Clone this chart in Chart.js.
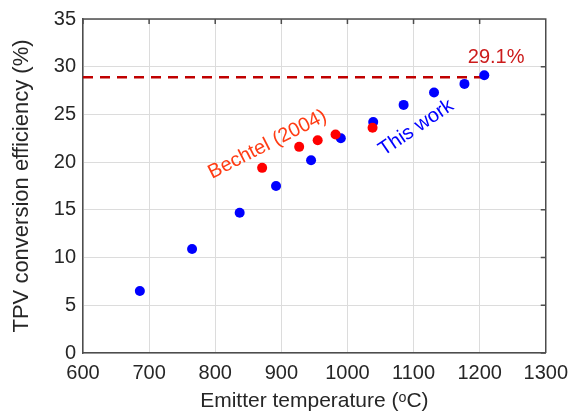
<!DOCTYPE html>
<html>
<head>
<meta charset="utf-8">
<script src="https://cdn.jsdelivr.net/npm/chart.js@4.4.1/dist/chart.umd.min.js"></script>
<style>
  body { margin: 0; background: #fff; }
  canvas { display: block; }
</style>
</head>
<body>
<canvas id="grafico" width="576" height="415"></canvas>
<script>
// this work (blue)
var tempThisWork = [686, 765, 837, 892, 945, 990, 1039, 1085, 1131, 1177, 1207]
var efThisWork = [6.5, 10.9, 14.7, 17.5, 20.2, 22.5, 24.2, 26.0, 27.3, 28.2, 29.1]

// Bechtel (2004) (red)
var tempBechtel = [871, 927, 955, 982, 1038]
var efBechtel = [19.4, 21.6, 22.3, 22.9, 23.6]

// dashed reference line
var tempLinea = [600, 1205]
var efLinea = [28.9, 28.9]

var xTicks = [600, 700, 800, 900, 1000, 1100, 1200, 1300]
var yTicks = [0, 5, 10, 15, 20, 25, 30, 35]

// text labels: [text, x, y, angle, color]
var etiquetas = [
    ['29.1%', 1225, 31.0, 0, '#cc1b1b'],
    ['Bechtel (2004)', 879, 21.85, -27, '#ff3c14'],
    ['This work', 1104, 23.6, -34, '#0000ff']
]

function puntos(xs, ys) {
    return xs.map(function (x, i) { return {x: x, y: ys[i]} })
}

var colorMarco = '#4d4d4d'
var colorTexto = '#262626'
var fuente = 'Liberation Sans, Arial, sans-serif'

var extras = {
    id: 'extras',
    afterDraw: function (chart) {
        var ctx = chart.ctx
        var a = chart.chartArea
        var sx = chart.scales.x
        var sy = chart.scales.y
        ctx.save()
        // top and right frame + inner ticks
        ctx.strokeStyle = colorMarco
        ctx.lineWidth = 1.5
        ctx.beginPath()
        ctx.moveTo(a.left, a.top)
        ctx.lineTo(a.right, a.top)
        ctx.lineTo(a.right, a.bottom)
        xTicks.forEach(function (v) {
            var px = sx.getPixelForValue(v)
            ctx.moveTo(px, a.top)
            ctx.lineTo(px, a.top + 5)
        })
        yTicks.forEach(function (v) {
            var py = sy.getPixelForValue(v)
            ctx.moveTo(a.right, py)
            ctx.lineTo(a.right - 5, py)
        })
        ctx.stroke()
        // annotations
        ctx.font = '20px ' + fuente
        ctx.textAlign = 'center'
        ctx.textBaseline = 'middle'
        etiquetas.forEach(function (e) {
            ctx.save()
            ctx.translate(sx.getPixelForValue(e[1]), sy.getPixelForValue(e[2]))
            ctx.rotate(e[3] * Math.PI / 180)
            ctx.fillStyle = e[4]
            ctx.fillText(e[0], 0, 0)
            ctx.restore()
        })
        ctx.restore()
    }
}

var ctx = document.getElementById('grafico')
var grafico = new Chart(ctx,
    {
        type: 'scatter',
        data:
            {
                datasets:
                    [{
                        data: puntos(tempLinea, efLinea),
                        showLine: true,
                        borderColor: '#c00000',
                        borderWidth: 2.5,
                        borderDash: [10, 7],
                        pointRadius: 0,
                        order: 3
                    },
                    {
                        data: puntos(tempThisWork, efThisWork),
                        backgroundColor: '#0000ff',
                        borderWidth: 0,
                        pointRadius: 5,
                        order: 2
                    },
                    {
                        data: puntos(tempBechtel, efBechtel),
                        backgroundColor: '#ff0000',
                        borderWidth: 0,
                        pointRadius: 5,
                        order: 1
                    }]
            },
        options:
            {
                responsive: false,
                animation: false,
                layout: { padding: { top: 13, right: 28, left: 0, bottom: 0 } },
                plugins: { legend: { display: false }, tooltip: { enabled: false } },
                scales:
                    {
                        x:
                            {
                                type: 'linear',
                                min: 600,
                                max: 1300,
                                afterBuildTicks: function (s) { s.ticks = xTicks.map(function (v) { return {value: v} }) },
                                afterFit: function (s) { s.height = 62 },
                                ticks: { color: colorTexto, font: { size: 20, family: fuente }, padding: 8, maxRotation: 0,
                                         callback: function (v) { return String(v) } },
                                grid: { color: '#dcdcdc', drawTicks: false },
                                border: { color: colorMarco, width: 1.5 },
                                title: { display: true, text: 'Emitter temperature (ᵒC)', color: colorTexto, font: { size: 21, family: fuente }, padding: { top: 0, bottom: 1 } }
                            },
                        y:
                            {
                                min: 0,
                                max: 35,
                                afterBuildTicks: function (s) { s.ticks = yTicks.map(function (v) { return {value: v} }) },
                                afterFit: function (s) { s.width = 83 },
                                ticks: { color: colorTexto, font: { size: 20, family: fuente }, padding: 7 },
                                grid: { color: '#dcdcdc', drawTicks: false },
                                border: { color: colorMarco, width: 1.5 },
                                title: { display: true, text: 'TPV conversion efficiency (%)', color: colorTexto, font: { size: 22, family: fuente }, padding: { top: 9, bottom: 0 } }
                            }
                    }
            },
        plugins: [extras]
    })
</script>
</body>
</html>
